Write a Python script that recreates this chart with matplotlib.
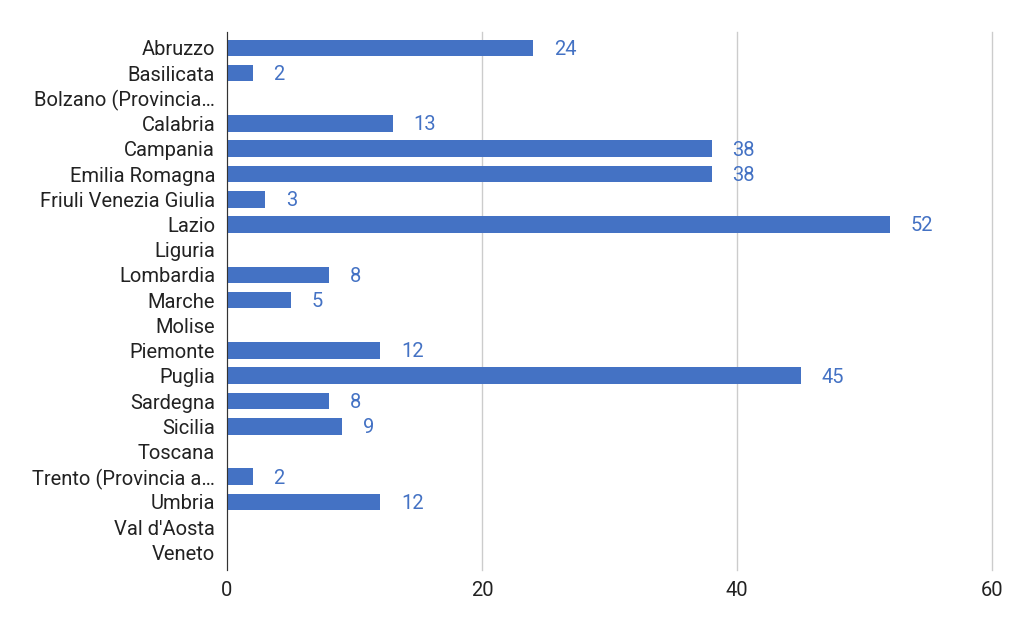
import matplotlib
matplotlib.use("Agg")
import matplotlib.pyplot as plt

regions = ["Abruzzo", "Basilicata", "Bolzano (Provincia…", "Calabria", "Campania",
           "Emilia Romagna", "Friuli Venezia Giulia", "Lazio", "Liguria", "Lombardia",
           "Marche", "Molise", "Piemonte", "Puglia", "Sardegna", "Sicilia", "Toscana",
           "Trento (Provincia a…", "Umbria", "Val d'Aosta", "Veneto"]
counts = [24, 2, 0, 13, 38, 38, 3, 52, 0, 8, 5, 0, 12, 45, 8, 9, 0, 2, 12, 0, 0]
ticks = [0, 20, 40, 60]

blue = "#4472c4"
plt.rcParams['font.family'] = ['Roboto', 'DejaVu Sans']

fig = plt.figure(figsize=(10.24, 6.33), dpi=100)
ax = fig.add_axes([0.2217, 0.0995, 0.7471, 0.8499])

pos = list(range(len(regions)))
ax.barh(pos, counts, height=0.66, color=blue, zorder=3)
for p, v in zip(pos, counts):
    if v > 0:
        ax.annotate(str(v), (v, p), xytext=(15, -1), textcoords="offset points",
                    va="center", ha="left", color=blue, fontsize=14.5)

ax.set_xlim(0, 60)
ax.set_ylim(20.7, -0.63)
ax.set_xticks(ticks)
ax.set_yticks(pos)
ax.set_yticklabels(regions)
ax.grid(axis="x", color="#cccccc", linewidth=1, zorder=0, clip_on=False)
for s in ["top", "right", "bottom"]:
    ax.spines[s].set_visible(False)
ax.spines["left"].set_color("#333333")
ax.spines["left"].set_zorder(4)
ax.tick_params(axis="both", length=0, labelsize=14.5, colors="#222222")
ax.tick_params(axis="x", pad=8)
ax.tick_params(axis="y", pad=8.5)

fig.savefig("out.png", dpi=100)
